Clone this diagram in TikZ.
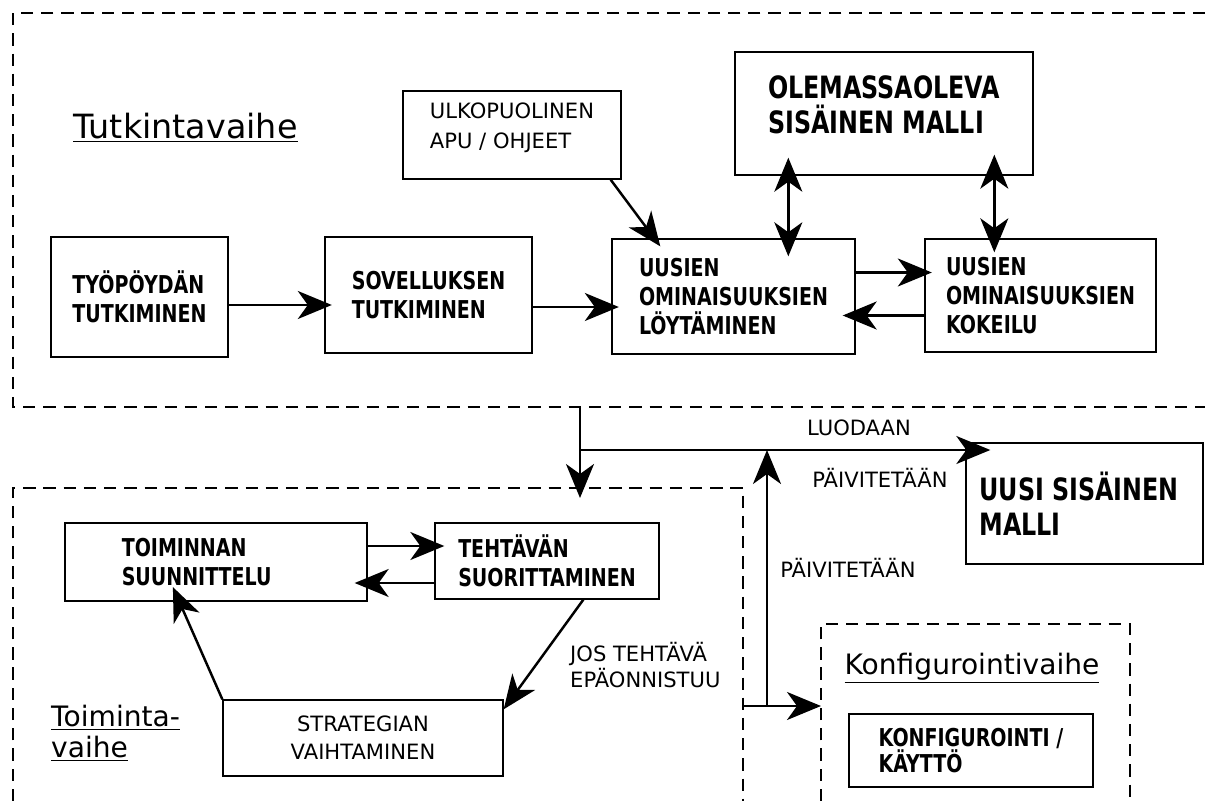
\documentclass[tikz,border=0pt]{standalone}
\usepackage{fontspec}
\setmainfont{DejaVu Sans}
\newfontfamily\boxfont{DejaVu Sans Condensed}[FakeStretch=0.86]
\usetikzlibrary{arrows.meta,calc}

\def\phaselabel#1{\underline{#1}}
\def\tipsize{length=0.68cm,width=0.56cm,inset=0.2cm}

\begin{document}
\begin{tikzpicture}[x=0.02cm,y=-0.02cm,
  box/.style={draw,line width=0.8pt,inner sep=0pt,align=left,
    font=\boxfont\bfseries\fontsize{14}{16.5}\selectfont},
  bigbox/.style={box,font=\boxfont\bfseries\fontsize{17.5}{20}\selectfont},
  plainbox/.style={box,align=center,font=\fontsize{12}{16}\selectfont},
  phase/.style={align=left,font=\fontsize{16}{17.5}\selectfont},
  lbl/.style={align=left,font=\fontsize{12}{14.8}\selectfont},
  region/.style={dash pattern=on 7pt off 4.5pt,line width=0.6pt},
  arr/.style={-{Stealth[\tipsize]},line width=1.4pt,shorten >=-0.15cm},
  dblarr/.style={{Stealth[\tipsize]}-{Stealth[\tipsize]},line width=1.4pt}]
\useasboundingbox (0,0) rectangle (1205,801);

% vaiheiden rajat
\draw[region] (1205,13) -- (13,13) -- (13,407) -- (1205,407); %tutkinta
\draw[region] (13,801) -- (13,488) -- (743,488) -- (743,801); %toiminta
\draw[region] (821,801) -- (821,624) -- (1130,624) -- (1130,801); %konfigurointi

\node[phase,font=\fontsize{19}{21}\selectfont] (tutkhead) at (185.5,128) {\phaselabel{Tutkintavaihe}};
\node[phase,anchor=west] (toimhead) at (45,733) {\phaselabel{Toiminta-}\\\phaselabel{vaihe}};
\node[phase] (konfhead) at (972,668) {\phaselabel{Konfigurointivaihe}};

% tutkintavaihe
\node[box,minimum width=3.54cm,minimum height=2.4cm] (tyo) at (139.5,297) {TYÖPÖYDÄN\\TUTKIMINEN};
\node[box,minimum width=4.14cm,minimum height=2.32cm] (sov) at (428.5,295) {SOVELLUKSEN\\TUTKIMINEN};
\node[box,minimum width=4.36cm,minimum height=1.76cm,font=\fontsize{12}{17}\selectfont] (ulko) at (512,135) {ULKOPUOLINEN\\APU / OHJEET\\[-6pt]};
\node[bigbox,minimum width=5.96cm,minimum height=2.46cm] (olem) at (884,113.5) {OLEMASSAOLEVA\\SISÄINEN MALLI\\[-10pt]};
\node[box,minimum width=4.86cm,minimum height=2.3cm] (loyt) at (733.5,296.5) {UUSIEN\\OMINAISUUKSIEN\\LÖYTÄMINEN};
\node[box,minimum width=4.62cm,minimum height=2.26cm] (koke) at (1040.5,295.5) {UUSIEN\\OMINAISUUKSIEN\\KOKEILU};

% toimintavaihe
\node[box,minimum width=6.04cm,minimum height=1.56cm] (toim) at (216,562) {TOIMINNAN\\SUUNNITTELU\hspace*{22pt}};
\node[box,minimum width=4.48cm,minimum height=1.52cm] (teht) at (547,561) {TEHTÄVÄN\\SUORITTAMINEN};
\node[plainbox,minimum width=5.6cm,minimum height=1.52cm] (strat) at (363,738) {STRATEGIAN\\VAIHTAMINEN};

% malli ja konfigurointi
\node[bigbox,minimum width=4.74cm,minimum height=2.42cm] (uusi) at (1084.5,503.5) {UUSI SISÄINEN\hspace*{6pt}\\MALLI};
\node[box,minimum width=4.88cm,minimum height=1.46cm,font=\boxfont\bfseries\fontsize{14}{15}\selectfont] (konf) at (971,750.5) {KONFIGUROINTI /\\KÄYTTÖ};

\node[lbl] (luodaan) at (859,428) {LUODAAN};
\node[lbl] (paiv1) at (880,478) {PÄIVITETÄÄN};
\node[lbl] (paiv2) at (848,568) {PÄIVITETÄÄN};
\node[lbl,anchor=west] (jos) at (564,665) {JOS TEHTÄVÄ\\EPÄONNISTUU};

\coordinate (tutkS) at (580,407);
\coordinate (toimN) at (580,488);
\coordinate (split) at (580,450);
\coordinate (toimE) at (743,706);
\coordinate (konfW) at (821,706);
\coordinate (upS) at (767,706);
\coordinate (upN) at (767,450);

\coordinate (tyoR) at ($(tyo.east)+(0,8)$);
\coordinate (sovR) at ($(sov.east)+(0,12)$);
\coordinate (olemA) at ($(olem.south west)+(54,0)$);
\coordinate (olemB) at ($(olem.south west)+(260,0)$);
\coordinate (loytR) at ($(loyt.east)+(0,-24)$);
\coordinate (kokeL) at ($(koke.west)+(0,20)$);
\coordinate (toimR) at ($(toim.east)+(0,-16)$);
\coordinate (tehtL) at ($(teht.west)+(0,22)$);

\draw[arr] (tyoR) -- (tyoR -| sov.west); %tyo to sov
\draw[arr] (sovR) -- (sovR -| loyt.west); %sov to loyt
\draw[arr,shorten >=-0.2cm] ($(ulko.south east)+(-11,0)$) -- ($(loyt.north west)+(43,0)$); %ulko to loyt
\draw[dblarr,shorten <=-0.36cm,shorten >=-0.36cm] (olemA) -- (olemA |- loyt.north); %olem to loyt
\draw[dblarr,shorten <=-0.42cm,shorten >=-0.28cm] (olemB) -- (olemB |- koke.north); %olem to koke
\draw[arr] (loytR) -- (loytR -| koke.west); %loyt to koke
\draw[arr,shorten >=-0.26cm] (kokeL) -- (kokeL -| loyt.east); %koke to loyt

\draw[arr,shorten >=-0.2cm] (tutkS) -- (toimN); %tutkinta to toiminta
\draw[arr,shorten >=-0.5cm] (split) -- (split -| uusi.west); %luodaan
\draw[arr,shorten >=0pt] (upS) -- (upN); %paivitetaan
\draw[arr,shorten >=0pt] (toimE) -- (konfW); %toiminta to konfigurointi

\draw[arr,shorten >=-0.2cm] (toimR) -- (toimR -| teht.west); %toim to teht
\draw[arr,shorten >=-0.26cm] (tehtL) -- (tehtL -| toim.east); %teht to toim
\draw[arr,shorten >=0pt] ($(teht.south west)+(149,0)$) -- ($(strat.north east)+(0,10)$); %teht to strat
\draw[arr,shorten >=-0.32cm] (strat.north west) -- ($(toim.south west)+(115,0)$); %strat to toim
\end{tikzpicture}
\end{document}
